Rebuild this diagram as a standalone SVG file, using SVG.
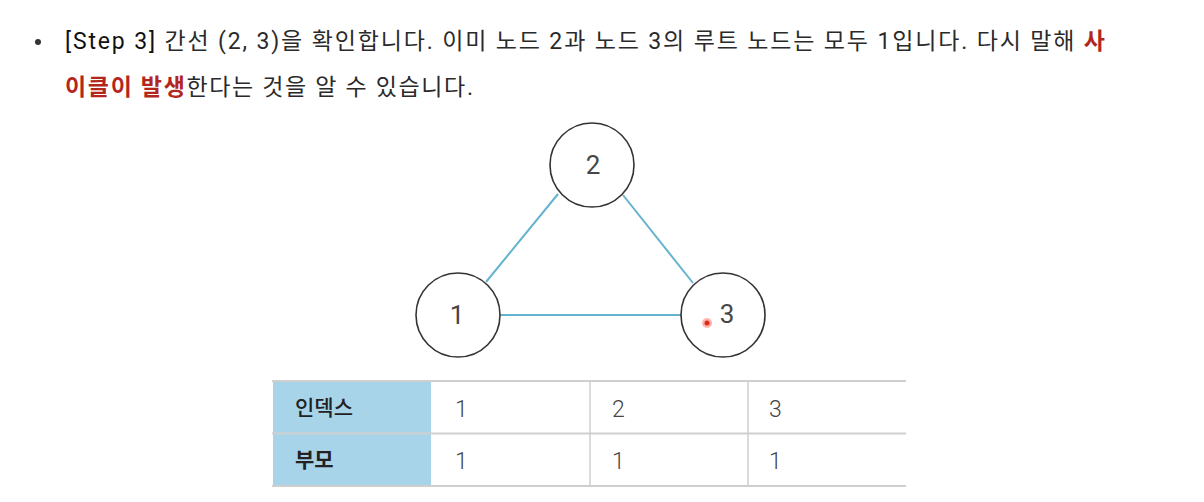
<svg xmlns="http://www.w3.org/2000/svg" width="1204" height="502" viewBox="0 0 1204 502">
<style>
.t{font-family:Roboto,"Noto Sans CJK KR",sans-serif;fill:#2a2a2a;font-size:23px}
.b{fill:#111}
.r{fill:#b3261e;font-weight:bold}
.node circle{fill:#fff;stroke:#333;stroke-width:1.6}
.node text{font-family:Roboto,"Liberation Sans",sans-serif;font-size:26px;fill:#474747;text-anchor:middle;dominant-baseline:central}
.edge{stroke:#64b4cf;stroke-width:2}
.grid{stroke:#cfcfcf;stroke-width:2}
.c{font-family:Roboto,"Noto Sans CJK KR",sans-serif;font-size:21px;fill:#333;dominant-baseline:central}
.n{font-weight:300;font-size:23px;fill:#444}
.h{font-weight:500;fill:#222}
.hb{font-weight:bold;fill:#222}
</style>
<rect width="1204" height="502" fill="#fff"/>
<circle cx="38" cy="42" r="3" fill="#333"/>
<text class="t" x="65" y="49" textLength="1040" lengthAdjust="spacing"><tspan class="b">[Step 3]</tspan> 간선 (2, 3)을 확인합니다. 이미 노드 2과 노드 3의 루트 노드는 모두 1입니다. 다시 말해 <tspan class="r">사</tspan></text>
<text class="t" x="65" y="95" textLength="408" lengthAdjust="spacing"><tspan class="r">이클이 발생</tspan>한다는 것을 알 수 있습니다.</text>
<g id="edges">
<line class="edge" x1="558" y1="194" x2="486" y2="282"/>
<line class="edge" x1="623" y1="195" x2="693" y2="283"/>
<line class="edge" x1="500" y1="315" x2="681" y2="315"/>
</g>
<g id="node2" class="node"><circle cx="592" cy="165" r="42"/><text x="593" y="165">2</text></g>
<g id="node1" class="node"><circle cx="458" cy="315" r="42"/><text x="457" y="315">1</text></g>
<g id="node3" class="node"><circle cx="723" cy="315" r="42"/><text x="727" y="314">3</text></g>
<circle cx="707" cy="323" r="5" fill="#ff6a5a" opacity="0.5"/>
<circle cx="707" cy="323" r="2.5" fill="#e02a1a"/>
<g id="table">
<rect x="273" y="382" width="158" height="51" fill="#a8d4ea"/>
<rect x="273" y="434" width="158" height="51" fill="#a8d4ea"/>
<line class="grid" x1="272" y1="381" x2="906" y2="381"/>
<line class="grid" x1="272" y1="433.5" x2="906" y2="433.5"/>
<line class="grid" x1="272" y1="486" x2="906" y2="486"/>
<line class="grid" x1="590" y1="381" x2="590" y2="486" style="stroke-width:1.5"/>
<line class="grid" x1="748" y1="381" x2="748" y2="486" style="stroke-width:1.5"/>
<text class="c h" x="295" y="408">인덱스</text>
<text class="c hb" x="295" y="460">부모</text>
<text class="c n" x="455" y="409">1</text>
<text class="c n" x="612" y="409">2</text>
<text class="c n" x="769" y="409">3</text>
<text class="c n" x="455" y="461">1</text>
<text class="c n" x="612" y="461">1</text>
<text class="c n" x="769" y="461">1</text>
</g>
</svg>
